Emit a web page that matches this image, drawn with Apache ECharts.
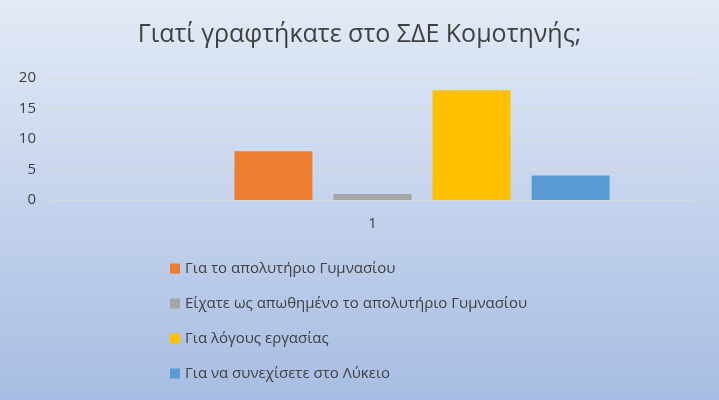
<!DOCTYPE html>
<html><head><meta charset="utf-8">
<script src="https://cdn.jsdelivr.net/npm/echarts@6/dist/echarts.min.js"></script>
<style>html,body{margin:0;padding:0;}#c{width:719px;height:400px;}</style>
</head><body><div id="c"></div>
<script>
const categories = ['1'];
const seriesNames = ['', 'Για το απολυτήριο Γυμνασίου', 'Είχατε ως απωθημένο το απολυτήριο Γυμνασίου', 'Για λόγους εργασίας', 'Για να συνεχίσετε στο Λύκειο'];
const seriesValues = [0, 8, 1, 18, 4];
const colors = ['#5b9bd5', '#ed7d31', '#a5a5a5', '#ffc000', '#5b9bd5'];
const chart = echarts.init(document.getElementById('c'));
chart.setOption({
  backgroundColor: new echarts.graphic.LinearGradient(0,0,0,1,[{offset:0,color:'#e3eaf6'},{offset:1,color:'#a7bde3'}]),
  title: {text:'Γιατί γραφτήκατε στο ΣΔΕ Κομοτηνής;', left:'center', top:17,
    textStyle:{fontFamily:'Open Sans', fontSize:25, fontWeight:'normal', color:'#404040'}},
  legend: {orient:'vertical', left:165, top:256, itemGap:20, itemWidth:10, itemHeight:10,
    data: seriesNames.slice(1).map(n=>({name:n, icon:'rect'})),
    textStyle:{fontFamily:'Open Sans', fontSize:15, color:'#404040'}},
  grid: {left:50, right:24, top:78, bottom:200},
  xAxis: {type:'category', data:categories,
    axisLine:{lineStyle:{color:'#d9d9d9'}}, axisTick:{show:false},
    axisLabel:{fontFamily:'Open Sans', fontSize:15, color:'#404040', margin:16}},
  yAxis: {type:'value', min:0, max:20, interval:5,
    axisLine:{show:false}, axisTick:{show:false},
    splitLine:{lineStyle:{color:'#d9d9d9'}},
    axisLabel:{fontFamily:'Open Sans', fontSize:15, color:'#404040', margin:14}},
  series: seriesNames.map((n,i)=>({name:n, type:'bar', data:[seriesValues[i]], barWidth:78, barGap:'27%',
    itemStyle:{color:colors[i]}}))
});
</script></body></html>
